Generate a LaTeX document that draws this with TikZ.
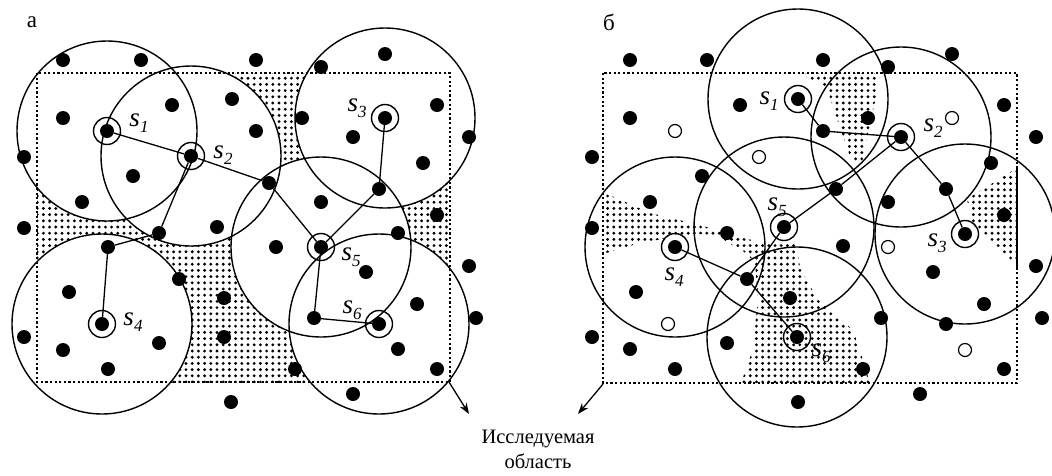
\documentclass[tikz,border=0pt]{standalone}
\usepackage{fontspec}
\setmainfont{Liberation Serif}
\usetikzlibrary{patterns.meta,arrows.meta}

% sensor label: italic s with a small italic index
\newcommand{\sen}[1]{\textit{s}\raisebox{-0.22em}{\fontsize{17}{17}\selectfont\textit{#1}}}

\tikzset{
  area/.style={dash pattern=on 2.2pt off 2.4pt, line width=2pt},
  zone/.style={line width=1.4pt},
  link/.style={line width=1.3pt},
  mote/.style={circle, fill=black, inner sep=0pt, minimum size=14pt},
  idle/.style={circle, draw=black, fill=white, line width=1.2pt, inner sep=0pt, minimum size=13pt},
  ring/.style={circle, draw=black, line width=1.4pt, inner sep=0pt, minimum size=27pt},
  gap/.style={pattern={Dots[distance=6.2pt, radius=1.6pt]}},
  lbl/.style={font=\fontsize{27}{27}\selectfont, inner sep=0pt},
  panel/.style={font=\fontsize{23}{23}\selectfont, inner sep=0pt},
  pointer/.style={line width=1.3pt, -{Stealth[length=11pt, width=8pt]}},
}

\begin{document}
\begin{tikzpicture}[x=1pt,y=-1pt]
\useasboundingbox (0,0) rectangle (1052,475);

% sensor positions
\coordinate (A1) at (107,131);
\coordinate (A2) at (191,156);
\coordinate (A3) at (385,118);
\coordinate (A4) at (102,324);
\coordinate (A5) at (321,247);
\coordinate (A6) at (379,324);
\coordinate (B1) at (798,99);
\coordinate (B2) at (901,137);
\coordinate (B3) at (965,234);
\coordinate (B4) at (675,247);
\coordinate (B5) at (784,227);
\coordinate (B6) at (797,337);

% panel a: part of the area not covered by any sensor
\begin{scope}
  \clip (37,73) rectangle (450,382);
  \fill[gap] (37,73) rectangle (450,382);
  \foreach \i in {1,...,6} \fill[white] (A\i) circle[radius=90pt];
\end{scope}

% panel b: uncovered pockets
\fill[gap] (797,73) -- (880,73) -- (877,92) -- (862,162) -- (852,162)
  -- (840,128) -- (829,95) -- (822,84) -- cycle;
\fill[gap] (1017,168) -- (967,199) -- (972,224) -- (1013,262) -- (1017,262) -- cycle;
\fill[gap] (603,192) -- (650,213) -- (700,225) -- (720,231) -- (743,238)
  -- (765,243) -- (797,243) -- (800,268) -- (818,300) -- (853,330)
  -- (863,360) -- (870,383) -- (741,383) -- (752,352) -- (758,300)
  -- (755,262) -- (743,251) -- (720,238) -- (700,234) -- (667,238)
  -- (633,245) -- (603,254) -- cycle;

% monitored areas
\draw[area] (37,73) rectangle (450,382);
\draw[area] (603,73) rectangle (1017,383);
\draw[line width=1.8pt] (1017,168) -- (1017,270);
\coordinate (aCorner) at (449,382);
\coordinate (aTip) at (469,414);
\coordinate (bCorner) at (603,384);
\coordinate (bTip) at (578,414);

% sensing ranges
\foreach \i in {1,...,6} {
  \draw[zone] (A\i) circle[radius=90pt];
  \draw[zone] (B\i) circle[radius=90pt];
}

% panel a: nodes
\foreach \x/\y [count=\k] in {63/60, 141/60, 256/60, 172/105, 232/99, 256/131,
    63/118, 133/176, 24/157, 82/202, 24/228, 217/227, 321/67, 385/54, 302/118,
    437/105, 353/137, 469/137, 423/163, 321/202, 437/215, 398/233, 179/279,
    69/292, 224/298, 24/337, 159/343, 63/350, 224/337, 108/369, 231/402,
    276/247, 366/272, 469/266, 417/304, 476/318, 398/349, 437/369, 295/369, 353/394}
  \node[mote] (pa\k) at (\x,\y) {};
\node[mote] (L1) at (159,233) {};
\node[mote] (L2) at (108,247) {};
\node[mote] (L3) at (269,183) {};
\node[mote] (L4) at (379,189) {};
\node[mote] (L5) at (314,318) {};
\foreach \i in {1,...,6} {
  \node[mote] (a\i) at (A\i) {};
  \node[ring] (ra\i) at (A\i) {};
}

% panel b: nodes
\foreach \x/\y [count=\k] in {630/60, 707/60, 823/60, 630/118, 740/105, 702/176,
    592/157, 650/202, 592/228, 727/233, 888/67, 952/54, 1004/105, 1036/137,
    868/118, 991/163, 888/202, 1004/215, 790/298, 636/292, 592/337, 727/343,
    630/349, 675/369, 798/402, 843/246, 1036/266, 933/272, 881/318, 984/304,
    946/324, 1042/318, 863/369, 1004/369, 920/394}
  \node[mote] (pb\k) at (\x,\y) {};
\foreach \x/\y [count=\k] in {675/131, 759/157, 952/118, 888/247, 965/350, 668/324}
  \node[idle] (ob\k) at (\x,\y) {};
\node[mote] (R1) at (823,131) {};
\node[mote] (R2) at (836,189) {};
\node[mote] (R3) at (946,189) {};
\node[mote] (R4) at (747,279) {};
\foreach \i in {1,...,6} {
  \node[mote] (b\i) at (B\i) {};
  \node[ring] (rb\i) at (B\i) {};
}

% communication links
\draw[link] (a1) -- (a2);
\draw[link] (a2) -- (L1) -- (L2) -- (a4);
\draw[link] (a2) -- (L3) -- (a5);
\draw[link] (a5) -- (L4) -- (a3);
\draw[link] (a5) -- (L5) -- (a6);
\draw[link] (b1) -- (R1) -- (b2);
\draw[link] (b2) -- (R2) -- (b5);
\draw[link] (b2) -- (R3) -- (b3);
\draw[link] (b4) -- (R4) -- (b6);
\draw[link] (b5) -- (R4);

% sensor labels
\node[lbl] (ta1) at (139,123) {\sen{1}};
\node[lbl] (ta2) at (223,155) {\sen{2}};
\node[lbl] (ta3) at (357,108) {\sen{3}};
\node[lbl] (ta4) at (133,322) {\sen{4}};
\node[lbl] (ta5) at (351,257) {\sen{5}};
\node[lbl] (ta6) at (352,310) {\sen{6}};
\node[lbl] (tb1) at (769,101) {\sen{1}};
\node[lbl] (tb2) at (933,128) {\sen{2}};
\node[lbl] (tb3) at (937,243) {\sen{3}};
\node[lbl] (tb4) at (674,277) {\sen{4}};
\node[lbl] (tb5) at (777,207) {\sen{5}};
\node[lbl] (tb6) at (821,353) {\sen{6}};

% panel letters
\node[panel] (la) at (32,22) {а};
\node[panel] (lb) at (609,22) {б};

% caption and pointers
\node[align=center, font=\fontsize{20.5}{25}\selectfont, inner sep=0pt, anchor=north]
  (cap) at (538,430) {Исследуемая\\область};
\draw[pointer] (aCorner) -- (aTip);
\draw[pointer] (bCorner) -- (bTip);
\end{tikzpicture}
\end{document}
